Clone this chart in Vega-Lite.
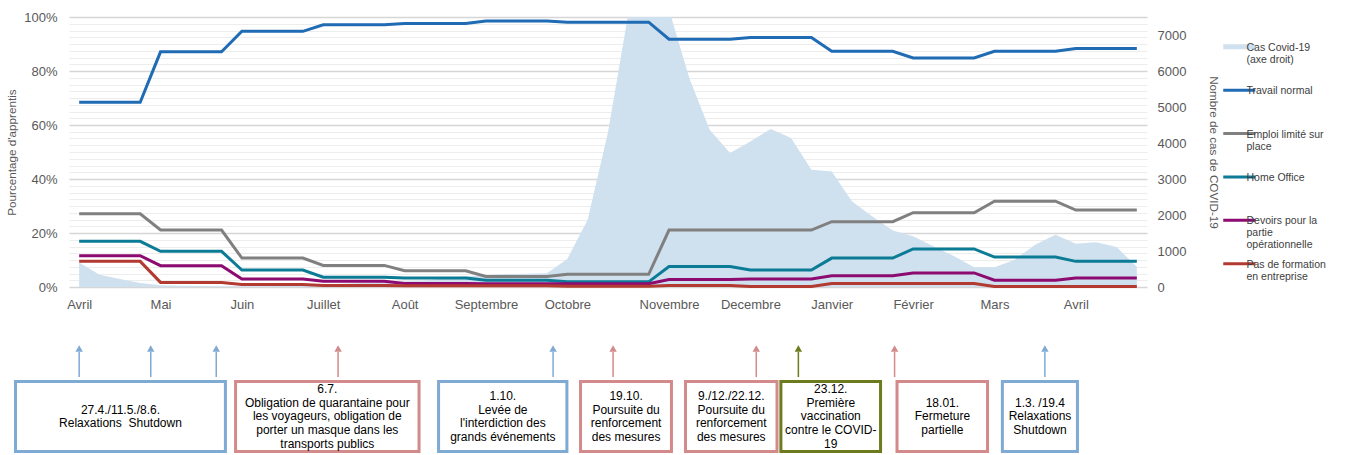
{
  "$schema": "https://vega.github.io/schema/vega-lite/v6.json",
  "background": "white",
  "padding": {"left": 6, "top": 11, "right": 0, "bottom": 0},
  "spacing": 32,
  "config": {
    "view": {"stroke": null},
    "font": "Liberation Sans",
    "axis": {"labelFont": "Liberation Sans", "titleFont": "Liberation Sans", "labelColor": "#595959", "titleColor": "#595959", "titleFontWeight": "normal", "domain": false, "ticks": false, "tickSize": 0}
  },
  "datasets": {
    "weeks": [
      {"w":0,"cas":680,"t":68.4,"e":27.1,"h":16.9,"d":11.6,"p":9.5},
      {"w":1,"cas":340,"t":68.4,"e":27.1,"h":16.9,"d":11.6,"p":9.5},
      {"w":2,"cas":220,"t":68.4,"e":27.1,"h":16.9,"d":11.6,"p":9.5},
      {"w":3,"cas":110,"t":68.4,"e":27.1,"h":16.9,"d":11.6,"p":9.5},
      {"w":4,"cas":50,"t":87.1,"e":21.1,"h":13.2,"d":7.9,"p":1.7},
      {"w":5,"cas":35,"t":87.1,"e":21.1,"h":13.2,"d":7.9,"p":1.7},
      {"w":6,"cas":25,"t":87.1,"e":21.1,"h":13.2,"d":7.9,"p":1.7},
      {"w":7,"cas":20,"t":87.1,"e":21.1,"h":13.2,"d":7.9,"p":1.7},
      {"w":8,"cas":20,"t":94.7,"e":10.7,"h":6.3,"d":3.0,"p":0.9},
      {"w":9,"cas":20,"t":94.7,"e":10.7,"h":6.3,"d":3.0,"p":0.9},
      {"w":10,"cas":25,"t":94.7,"e":10.7,"h":6.3,"d":3.0,"p":0.9},
      {"w":11,"cas":40,"t":94.7,"e":10.7,"h":6.3,"d":3.0,"p":0.9},
      {"w":12,"cas":70,"t":97.1,"e":8.0,"h":3.6,"d":2.1,"p":0.6},
      {"w":13,"cas":90,"t":97.1,"e":8.0,"h":3.6,"d":2.1,"p":0.6},
      {"w":14,"cas":110,"t":97.1,"e":8.0,"h":3.6,"d":2.1,"p":0.6},
      {"w":15,"cas":140,"t":97.1,"e":8.0,"h":3.6,"d":2.1,"p":0.6},
      {"w":16,"cas":160,"t":97.6,"e":6.0,"h":3.3,"d":1.3,"p":0.5},
      {"w":17,"cas":180,"t":97.6,"e":6.0,"h":3.3,"d":1.3,"p":0.5},
      {"w":18,"cas":240,"t":97.6,"e":6.0,"h":3.3,"d":1.3,"p":0.5},
      {"w":19,"cas":300,"t":97.6,"e":6.0,"h":3.3,"d":1.3,"p":0.5},
      {"w":20,"cas":330,"t":98.5,"e":3.9,"h":2.5,"d":1.2,"p":0.5},
      {"w":21,"cas":360,"t":98.5,"e":3.9,"h":2.5,"d":1.2,"p":0.5},
      {"w":22,"cas":370,"t":98.5,"e":3.9,"h":2.5,"d":1.2,"p":0.5},
      {"w":23,"cas":380,"t":98.5,"e":3.9,"h":2.5,"d":1.2,"p":0.5},
      {"w":24,"cas":780,"t":98.1,"e":4.7,"h":1.9,"d":1.2,"p":0.3},
      {"w":25,"cas":1870,"t":98.1,"e":4.7,"h":1.9,"d":1.2,"p":0.3},
      {"w":26,"cas":4300,"t":98.1,"e":4.7,"h":1.9,"d":1.2,"p":0.3},
      {"w":27,"cas":7600,"t":98.1,"e":4.7,"h":1.9,"d":1.2,"p":0.3},
      {"w":28,"cas":8500,"t":98.1,"e":4.7,"h":1.9,"d":1.2,"p":0.3},
      {"w":29,"cas":7700,"t":91.8,"e":21.1,"h":7.6,"d":2.8,"p":0.6},
      {"w":30,"cas":5800,"t":91.8,"e":21.1,"h":7.6,"d":2.8,"p":0.6},
      {"w":31,"cas":4370,"t":91.8,"e":21.1,"h":7.6,"d":2.8,"p":0.6},
      {"w":32,"cas":3720,"t":91.8,"e":21.1,"h":7.6,"d":2.8,"p":0.6},
      {"w":33,"cas":4045,"t":92.4,"e":21.1,"h":6.3,"d":3.0,"p":0.2},
      {"w":34,"cas":4390,"t":92.4,"e":21.1,"h":6.3,"d":3.0,"p":0.2},
      {"w":35,"cas":4140,"t":92.4,"e":21.1,"h":6.3,"d":3.0,"p":0.2},
      {"w":36,"cas":3258,"t":92.4,"e":21.1,"h":6.3,"d":3.0,"p":0.2},
      {"w":37,"cas":3210,"t":87.3,"e":24.2,"h":10.7,"d":4.2,"p":1.3},
      {"w":38,"cas":2378,"t":87.3,"e":24.2,"h":10.7,"d":4.2,"p":1.3},
      {"w":39,"cas":1961,"t":87.3,"e":24.2,"h":10.7,"d":4.2,"p":1.3},
      {"w":40,"cas":1570,"t":87.3,"e":24.2,"h":10.7,"d":4.2,"p":1.3},
      {"w":41,"cas":1410,"t":84.8,"e":27.5,"h":14.1,"d":5.2,"p":1.3},
      {"w":42,"cas":1130,"t":84.8,"e":27.5,"h":14.1,"d":5.2,"p":1.3},
      {"w":43,"cas":860,"t":84.8,"e":27.5,"h":14.1,"d":5.2,"p":1.3},
      {"w":44,"cas":550,"t":84.8,"e":27.5,"h":14.1,"d":5.2,"p":1.3},
      {"w":45,"cas":550,"t":87.3,"e":31.8,"h":11.1,"d":2.5,"p":0.2},
      {"w":46,"cas":760,"t":87.3,"e":31.8,"h":11.1,"d":2.5,"p":0.2},
      {"w":47,"cas":1175,"t":87.3,"e":31.8,"h":11.1,"d":2.5,"p":0.2},
      {"w":48,"cas":1450,"t":87.3,"e":31.8,"h":11.1,"d":2.5,"p":0.2},
      {"w":49,"cas":1200,"t":88.3,"e":28.5,"h":9.5,"d":3.3,"p":0.2},
      {"w":50,"cas":1240,"t":88.3,"e":28.5,"h":9.5,"d":3.3,"p":0.2},
      {"w":51,"cas":1110,"t":88.3,"e":28.5,"h":9.5,"d":3.3,"p":0.2},
      {"w":52,"cas":560,"t":88.3,"e":28.5,"h":9.5,"d":3.3,"p":0.2}
    ],
    "boxes": [
      {"x1":-3.13,"x2":7.19,"xm":2.03,"kind":"relax","label":"27.4./11.5./8.6.\nRelaxations\u00a0 Shutdown"},
      {"x1":7.69,"x2":16.71,"xm":12.2,"kind":"renf","label":"6.7.\nObligation de quarantaine pour\nles voyageurs, obligation de\nporter un masque dans les\ntransports publics"},
      {"x1":17.67,"x2":23.98,"xm":20.83,"kind":"relax","label":"1.10.\nLevée de\nl'interdiction des\ngrands événements"},
      {"x1":24.65,"x2":29.12,"xm":26.89,"kind":"renf","label":"19.10.\nPoursuite du\nrenforcement\ndes mesures"},
      {"x1":29.81,"x2":34.31,"xm":32.06,"kind":"renf","label":"9./12./22.12.\nPoursuite du\nrenforcement\ndes mesures"},
      {"x1":34.5,"x2":39.4,"xm":36.95,"kind":"vacc","label":"23.12.\nPremière\nvaccination\ncontre le COVID-\n19"},
      {"x1":40.21,"x2":44.66,"xm":42.44,"kind":"renf","label":"18.01.\nFermeture\npartielle"},
      {"x1":45.39,"x2":49.08,"xm":47.24,"kind":"relax","label":"1.3. /19.4\nRelaxations\nShutdown"}
    ],
    "arrows": [
      {"x":0,"kind":"relax"},{"x":3.52,"kind":"relax"},{"x":6.74,"kind":"relax"},
      {"x":12.73,"kind":"renf"},{"x":23.3,"kind":"relax"},{"x":26.25,"kind":"renf"},
      {"x":33.29,"kind":"renf"},{"x":35.36,"kind":"vacc"},{"x":40.09,"kind":"renf"},
      {"x":47.48,"kind":"relax"}
    ]
  },
  "vconcat": [
    {
      "width": 1078,
      "height": 270,
      "data": {"name": "weeks"},
      "layer": [
        {
          "mark": {"type": "area", "clip": true, "interpolate": "linear"},
          "encoding": {
            "x": {"field": "w", "type": "quantitative", "scale": {"domain": [-0.5, 52.5], "nice": false, "zero": false},
              "axis": {"title": null, "grid": false, "values": [0,4,8,12,16,20,24,29,33,37,41,45,49],
                "labelExpr": "['Avril','Mai','Juin','Juillet','Août','Septembre','Octobre','Novembre','Decembre','Janvier','Février','Mars','Avril'][indexof([0,4,8,12,16,20,24,29,33,37,41,45,49], datum.value)]",
                "labelFontSize": 13, "labelPadding": 11, "labelFlush": false, "labelAngle": 0, "labelOverlap": false}},
            "y": {"field": "cas", "type": "quantitative", "scale": {"domain": [0, 7500], "nice": false},
              "axis": {"orient": "right", "title": "Nombre de cas de COVID-19", "grid": false, "values": [0,1000,2000,3000,4000,5000,6000,7000], "format": "d",
                "labelFontSize": 13, "labelPadding": 10, "titleFontSize": 11.7, "titlePadding": 22}},
            "color": {"datum": "c", "type": "nominal"}
          }
        },
        {
          "transform": [{"fold": ["t", "e", "h", "d", "p"], "as": ["serie", "pct"]}],
          "mark": {"type": "line", "strokeWidth": 3, "interpolate": "linear"},
          "encoding": {
            "x": {"field": "w", "type": "quantitative"},
            "y": {"field": "pct", "type": "quantitative", "scale": {"domain": [0, 100], "nice": false},
              "axis": {"orient": "left", "title": "Pourcentage d'apprentis",
                "values": [0,2.5,5,7.5,10,12.5,15,17.5,20,22.5,25,27.5,30,32.5,35,37.5,40,42.5,45,47.5,50,52.5,55,57.5,60,62.5,65,67.5,70,72.5,75,77.5,80,82.5,85,87.5,90,92.5,95,97.5,100],
                "labelExpr": "datum.value % 20 === 0 ? datum.value + '%' : ''",
                "labelFontSize": 13, "labelPadding": 12, "titleFontSize": 11.7, "titlePadding": 6,
                "grid": true,
                "gridColor": {"condition": {"test": "datum.value % 20 === 0", "value": "#d6d6d6"}, "value": "#ededed"},
                "gridWidth": {"condition": {"test": "datum.value % 20 === 0", "value": 1.6}, "value": 1}}},
            "color": {"field": "serie", "type": "nominal",
              "scale": {"domain": ["c", "t", "e", "h", "d", "p"], "range": ["#cfe0ef", "#1f6bb4", "#808080", "#0b7b96", "#8d0b70", "#b23a30"]},
              "legend": {"orient": "none", "legendX": 1165, "legendY": 24.5, "title": null, "padding": 0,
                "symbolType": "stroke", "symbolSize": 1024, "symbolStrokeWidth": 3,
                "labelFont": "Liberation Sans", "labelFontSize": 10.5, "labelColor": "#404040", "labelOffset": 2, "labelLimit": 250,
                "labelBaseline": "top", "rowPadding": 6.4,
                "labelExpr": "datum.label == 'c' ? ['Cas Covid-19','(axe droit)',' '] : datum.label == 't' ? ['Travail normal',' ',' '] : datum.label == 'e' ? ['Emploi limité sur','place',' '] : datum.label == 'h' ? ['Home Office',' ',' '] : datum.label == 'd' ? ['Devoirs pour la','partie','opérationnelle'] : ['Pas de formation','en entreprise',' ']",
                "encode": {
                  "labels": {"update": {"dy": {"value": -4}, "lineHeight": {"value": 12}}},
                  "symbols": {"update": {"stroke": {"scale": "color", "field": "value"}, "strokeWidth": {"signal": "datum.value === 'c' ? 5 : 3"}, "fill": {"value": "transparent"}, "opacity": {"value": 1}}}
                }}}
          }
        }
      ],
      "resolve": {"scale": {"y": "independent"}}
    },
    {
      "width": 1078,
      "height": 110,
      "layer": [
        {
          "data": {"name": "boxes"},
          "mark": {"type": "rect", "fill": "white", "strokeWidth": 3},
          "encoding": {
            "x": {"field": "x1", "type": "quantitative", "scale": {"domain": [-0.5, 52.5], "nice": false, "zero": false}, "axis": null},
            "x2": {"field": "x2"},
            "y": {"datum": 1.5, "type": "quantitative", "scale": {"domain": [0, 110], "nice": false}, "axis": null},
            "y2": {"datum": 71.5},
            "stroke": {"field": "kind", "type": "nominal", "scale": {"domain": ["relax", "renf", "vacc"], "range": ["#7eaad4", "#d38a8a", "#6b7b1e"]}, "legend": null}
          }
        },
        {
          "data": {"name": "boxes"},
          "mark": {"type": "text", "lineBreak": "\n", "fontSize": 12, "lineHeight": 13.8, "baseline": "middle", "align": "center", "color": "#000000", "font": "Liberation Sans",
            "dy": {"expr": "-6.9 * (length(split(datum.label, '\\n')) - 1)"}},
          "encoding": {
            "x": {"field": "xm", "type": "quantitative"},
            "y": {"datum": 36.5, "type": "quantitative"},
            "text": {"field": "label"}
          }
        },
        {
          "data": {"name": "arrows"},
          "mark": {"type": "rule", "strokeWidth": 1.5},
          "encoding": {
            "x": {"field": "x", "type": "quantitative"},
            "y": {"datum": 76, "type": "quantitative"},
            "y2": {"datum": 101},
            "stroke": {"field": "kind", "type": "nominal", "legend": null}
          }
        },
        {
          "data": {"name": "arrows"},
          "mark": {"type": "point", "shape": "triangle-up", "filled": true, "size": 55, "opacity": 1},
          "encoding": {
            "x": {"field": "x", "type": "quantitative"},
            "y": {"datum": 104.5, "type": "quantitative"},
            "fill": {"field": "kind", "type": "nominal", "scale": {"domain": ["relax", "renf", "vacc"], "range": ["#7eaad4", "#d38a8a", "#6b7b1e"]}, "legend": null}
          }
        }
      ]
    }
  ]
}
